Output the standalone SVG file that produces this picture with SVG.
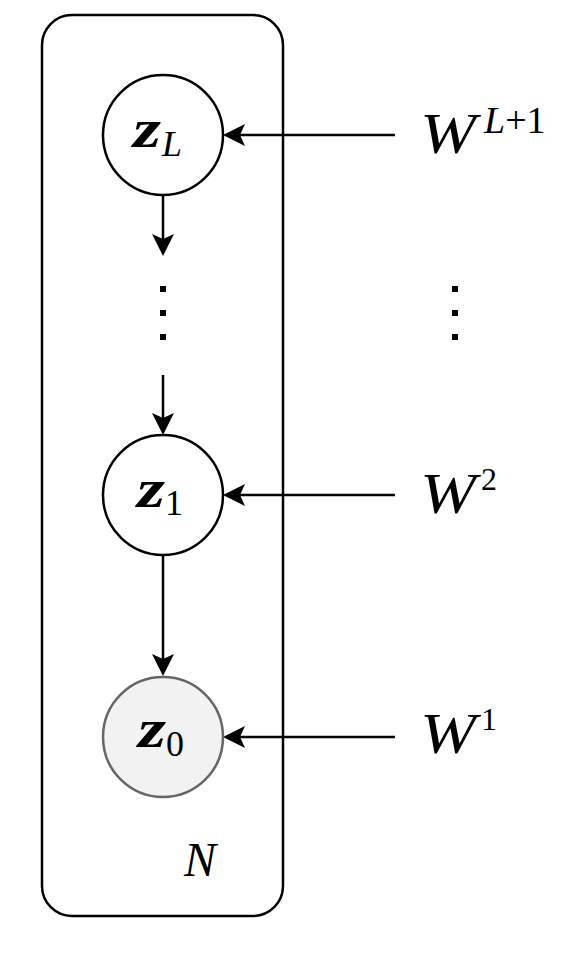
<svg xmlns="http://www.w3.org/2000/svg" width="576" height="960" viewBox="0 0 576 960">
<style>
.node{fill:#fff;stroke:#000;stroke-width:2.5}
.obs{fill:#f2f2f2;stroke:#666;stroke-width:2.5}
.ln{stroke:#000;stroke-width:2.5;fill:none}
.m{font-family:"Liberation Serif","DejaVu Serif",serif;font-style:italic;fill:#000}
.r{font-family:"Liberation Serif","DejaVu Serif",serif;font-style:normal;fill:#000}
.z{font-weight:bold;font-size:54px}
.dot{fill:#000}
</style>
<g id="plate">
<rect x="42" y="15" width="241" height="901" rx="30" ry="30" fill="none" stroke="#000" stroke-width="2.5"/>
<text class="m" x="184" y="876" font-size="48">N</text>
</g>
<g id="connectors">
<path class="ln" d="M395,135 L230,135"/>
<polygon points="223,135 245,124 240,135 245,146" fill="#000"/>
<path class="ln" d="M395,495 L230,495"/>
<polygon points="223,495 245,484 240,495 245,506" fill="#000"/>
<path class="ln" d="M395,737 L230,737"/>
<polygon points="223,737 245,726 240,737 245,748" fill="#000"/>
<path class="ln" d="M163,195 L163,250"/>
<polygon points="163,256 152,234 163,239 174,234" fill="#000"/>
<path class="ln" d="M163,375 L163,430"/>
<polygon points="163,435 152,413 163,418 174,413" fill="#000"/>
<path class="ln" d="M163,555 L163,670"/>
<polygon points="163,676 152,654 163,659 174,654" fill="#000"/>
</g>
<g id="zL">
<circle class="node" cx="163" cy="135" r="60"/>
<text class="m z" x="133" y="147" textLength="28" lengthAdjust="spacingAndGlyphs">z</text>
<text class="m" x="162" y="156" font-size="36">L</text>
</g>
<g id="dots-left">
<rect class="dot" x="160" y="286" width="6" height="6"/>
<rect class="dot" x="160" y="310" width="6" height="6"/>
<rect class="dot" x="160" y="334" width="6" height="6"/>
</g>
<g id="dots-right">
<rect class="dot" x="452" y="286" width="6" height="6"/>
<rect class="dot" x="452" y="310" width="6" height="6"/>
<rect class="dot" x="452" y="334" width="6" height="6"/>
</g>
<g id="z1">
<circle class="node" cx="163" cy="495" r="60"/>
<text class="m z" x="137" y="507" textLength="28" lengthAdjust="spacingAndGlyphs">z</text>
<text class="r" x="165" y="515" font-size="36">1</text>
</g>
<g id="z0">
<circle class="obs" cx="163" cy="737" r="60"/>
<text class="m z" x="138" y="747" fill="#222" textLength="28" lengthAdjust="spacingAndGlyphs">z</text>
<text class="r" x="166" y="756" font-size="36" fill="#222">0</text>
</g>
<g id="WL1">
<text class="m" x="420" y="153" font-size="58" textLength="56" lengthAdjust="spacingAndGlyphs">W</text>
<text x="484" y="133" font-size="38"><tspan class="m">L</tspan><tspan class="r">+1</tspan></text>
</g>
<g id="W2">
<text class="m" x="420" y="513" font-size="58" textLength="56" lengthAdjust="spacingAndGlyphs">W</text>
<text class="r" x="481" y="490" font-size="32">2</text>
</g>
<g id="W1">
<text class="m" x="420" y="753" font-size="58" textLength="56" lengthAdjust="spacingAndGlyphs">W</text>
<text class="r" x="481" y="730" font-size="32">1</text>
</g>
</svg>
